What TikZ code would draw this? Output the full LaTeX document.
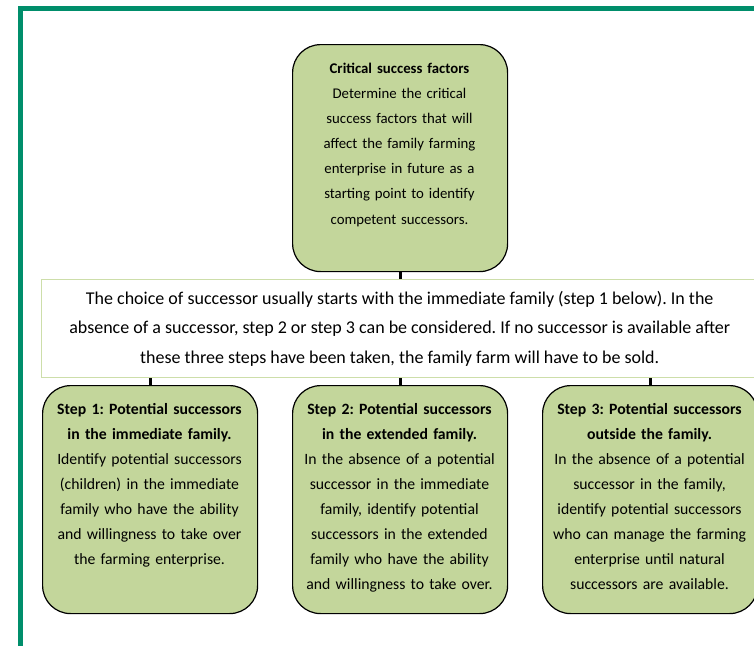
\documentclass[tikz,border=0pt]{standalone}
\usepackage{fontspec}
\setmainfont{Carlito}
\frenchspacing
\definecolor{boxgreen}{RGB}{195,214,155}
\definecolor{framegreen}{RGB}{0,142,107}
\definecolor{midborder}{RGB}{205,222,170}
\begin{document}
\frenchspacing
\begin{tikzpicture}[x=0.75pt,y=-0.75pt,
  greenbox/.style={draw=black, line width=0.9pt, fill=boxgreen, rounded corners=21pt,
    minimum width=161.25pt, inner sep=0pt, anchor=north west},
  boxtext/.style={text width=175pt, align=center, inner sep=0pt, anchor=base},
  topfont/.style={font=\fontsize{11.1}{18.9}\selectfont},
  stepfont/.style={font=\fontsize{11.8}{18.75}\selectfont},
  link/.style={line width=2.2pt, draw=black}]
\useasboundingbox (0,0) rectangle (754,646);
% frame
\draw[framegreen, line width=3.4pt] (20.5,646) -- (20.5,8.5) -- (760,8.5);
% top box
\node[greenbox, minimum height=170.25pt] (csf) at (292,44) {};
\node[boxtext, topfont] (csft) at (399.5,73) {\textbf{Critical success factors}\\
Determine the critical\\ success factors that will\\ affect the family farming\\
enterprise in future as a\\ starting point to identify\\ competent successors.};
% middle box
\node[draw=midborder, line width=1.1pt, fill=white, anchor=north west, inner sep=0pt,
  minimum width=537pt, minimum height=73.5pt, align=center,
  font=\fontsize{13.5}{21.9}\selectfont] (mid) at (41,279)
  {The choice of successor usually starts with the immediate family (step 1 below). In the\\
   absence of a successor, step 2 or step 3 can be considered. If no successor is available after\\
   these three steps have been taken, the family farm will have to be sold.};
% step boxes
\node[greenbox, minimum height=171pt] (s1) at (42,385) {};
\node[greenbox, minimum height=171pt] (s2) at (292,385) {};
\node[greenbox, minimum height=171pt] (s3) at (542,385) {};
\node[boxtext, stepfont] (s1t) at (149.5,414) {\textbf{Step 1: Potential successors}\\
\textbf{in the immediate family.}\\ Identify potential successors\\ (children) in the immediate\\
family who have the ability\\ and willingness to take over\\ the farming enterprise.};
\node[boxtext, stepfont] (s2t) at (399.5,414) {\textbf{Step 2: Potential successors}\\
\textbf{in the extended family.}\\ In the absence of a potential\\ successor in the immediate\\
family, identify potential\\ successors in the extended\\ family who have the ability\\
and willingness to take over.};
\node[boxtext, stepfont] (s3t) at (649.5,414) {\textbf{Step 3: Potential successors}\\
\textbf{outside the family.}\\ In the absence of a potential\\ successor in the family,\\
identify potential successors\\ who can manage the farming\\ enterprise until natural\\
successors are available.};
% connectors
\draw[link] (csf.south) -- (csf.south |- mid.north);
\draw[link] (s1.north) -- (s1.north |- mid.south);
\draw[link] (s2.north) -- (s2.north |- mid.south);
\draw[link] (s3.north) -- (s3.north |- mid.south);
\end{tikzpicture}
\end{document}
